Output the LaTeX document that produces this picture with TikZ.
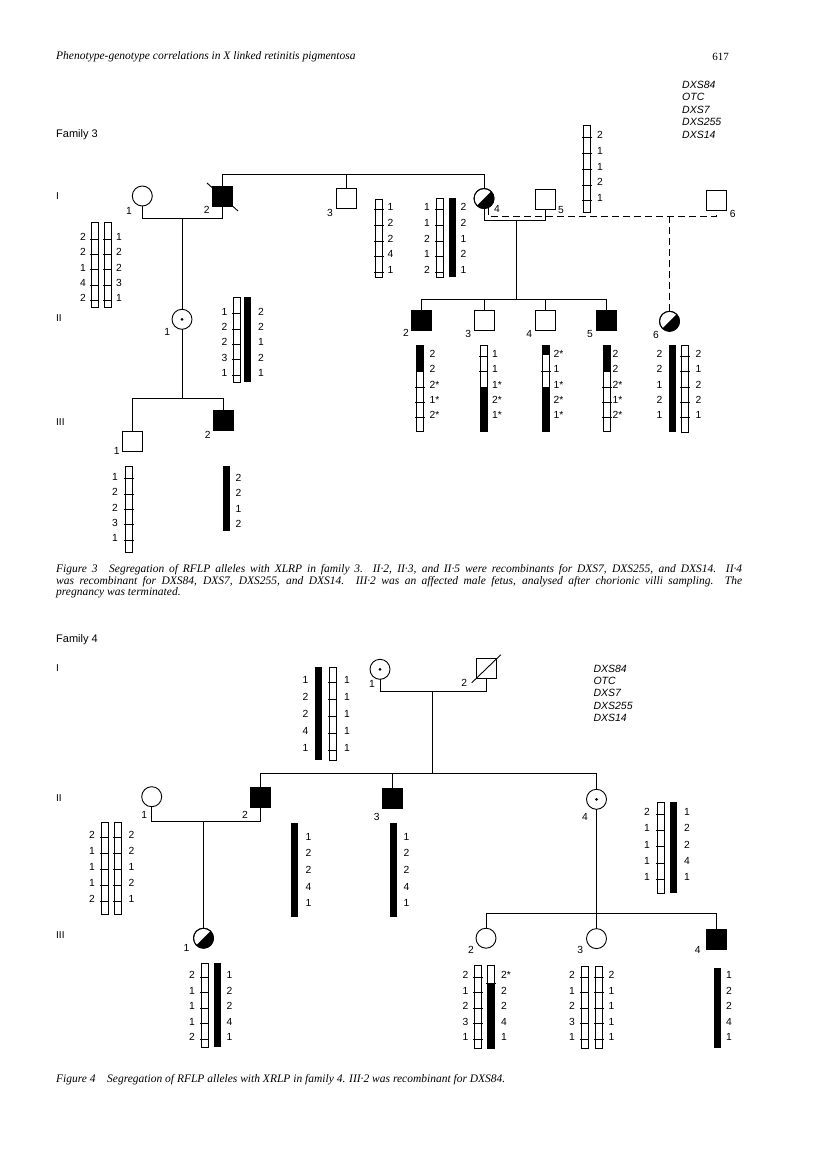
\documentclass[tikz,border=0pt]{standalone}
\usepackage{fontspec}
\setmainfont{Liberation Sans}
\newfontfamily\serifit{Liberation Serif}
\usetikzlibrary{calc}
\tikzset{
  pl/.style={line width=0.9pt},
  msq/.style={draw,line width=0.9pt,minimum size=20pt,inner sep=0pt,outer sep=0pt,fill=white},
  maff/.style={msq,fill=black},
  fcirc/.style={draw,circle,line width=0.9pt,minimum size=20pt,inner sep=0pt,outer sep=0pt,fill=white},
  num/.style={font=\fontsize{10.3}{10}\selectfont,inner sep=0pt},
  idl/.style={font=\fontsize{10.3}{10}\selectfont,inner sep=0pt},
  gen/.style={font=\fontsize{10}{10}\selectfont,inner sep=0pt,anchor=west},
  mk/.style={font=\fontsize{10.5}{12.4}\selectfont\itshape,inner sep=0pt,anchor=north west,align=left},
  captxt/.style={font=\fontsize{11.5}{12}\selectfont\serifit\itshape,inner sep=0pt,anchor=west},
  barl/.style={line width=0.7pt},
  dsh/.style={pl,dash pattern=on 7pt off 4pt},
}
\newcommand\wbar[5]{\draw[barl,fill=white] (#1,#2) rectangle (#1+7,#3);
  \foreach \k in {0,...,4}{\draw[barl] (#1-1.2,#4+\k*#5) -- (#1+8.2,#4+\k*#5);}}
\newcommand\bbar[3]{\fill (#1,#2) rectangle (#1+7,#3);}
\newcommand\pbar[5]{\draw[barl,fill=white] (#1,#2) rectangle (#1+7,#3);
  \foreach \ya/\yb in {#4}{\fill (#1,\ya) rectangle (#1+7,\yb);}
  \foreach \d in {#5}{\draw[barl] (#1-1.2,\d) -- (#1+8.2,\d);}
  \draw[barl] (#1,#2) rectangle (#1+7,#3);}
\newcommand\numsL[4]{\foreach \v [count=\i from 0] in {#4}{\node[num,anchor=east] at (#1,#2+\i*#3) {\v};}}
\newcommand\numsR[4]{\foreach \v [count=\i from 0] in {#4}{\node[num,anchor=west] at (#1,#2+\i*#3) {\v};}}
\newcommand\halfc[1]{\fill (#1.center) ++(-45:10) arc[start angle=-45,end angle=135,radius=10] -- cycle;
  \draw[pl] (#1.center) circle[radius=10];}
\newcommand\dotc[1]{\fill (#1.center) circle[radius=1.5];}
\begin{document}
\begin{tikzpicture}[x=1pt,y=-1pt]
\fill[white] (0,0) rectangle (816,1166);
\useasboundingbox (0,0) rectangle (816,1166);

% header
\node[captxt] (hdr) at (56,57) {Phenotype-genotype correlations in X linked retinitis pigmentosa};
\node[captxt,anchor=east,font=\fontsize{11}{12}\selectfont\serifit] (pg) at (729,57) {617};

% ================= FAMILY 3 =================
\node[mk] (leg3) at (682,81) {DXS84\\OTC\\DXS7\\DXS255\\DXS14};
\node[gen,font=\fontsize{11}{12}\selectfont] (fam3) at (56,135) {Family 3};
\node[gen] (g3a) at (56,196) {I};
\node[gen] (g3b) at (56,318) {II};
\node[gen] (g3c) at (56,422) {III};

% generation I
\node[fcirc] (a1) at (142.3,196) {};
\node[maff] (a2) at (222.5,196.5) {};
\node[msq] (a3) at (346.7,198) {};
\node[fcirc] (a4) at (484,198.5) {};
\node[msq] (a5) at (545,199) {};
\node[msq] (a6) at (716.7,200) {};
\halfc{a4}
\draw[pl] ([shift={(-5.5,-3.5)}]a2.north west) -- ([shift={(5.5,4.5)}]a2.south east);

% generation II
\node[fcirc] (b1) at (182,319.3) {};
\dotc{b1}
\node[maff] (b2) at (421.7,320.7) {};
\node[msq] (b3) at (484.3,320.7) {};
\node[msq] (b4) at (545.7,320.7) {};
\node[maff] (b5) at (606.7,320.7) {};
\node[fcirc] (b6) at (669.5,321.3) {};
\halfc{b6}

% generation III
\node[msq] (c1) at (132.7,441) {};
\node[maff] (c2) at (223.5,420.7) {};

% connectors family 3
\coordinate (t3) at (0,174.5);
\draw[pl] (a2.north) -- (a2.north |- t3) -- (a4.north |- t3) -- (a4.north);
\draw[pl] (a3.north) -- (a3.north |- t3);
\coordinate (m12) at (182,218.3);
\draw[pl] (a1.south) -- (a1.south |- m12) -- (a2.south |- m12) -- (a2.south);
\draw[pl] (m12) -- (b1.north);
\coordinate (m46) at (669.5,216);
\draw[dsh] (a4.-65) -- (a4.-65 |- m46) -- (a6.south |- m46) -- (a6.south);
\draw[dsh] (m46) -- (b6.north);
\coordinate (m45) at (516,220);
\draw[pl] (a4.south) -- (a4.south |- m45) -- (a5.south |- m45) -- (a5.south);
\coordinate (s2) at (516,299);
\draw[pl] (m45) -- (s2);
\draw[pl] (b2.north) -- (b2.north |- s2) -- (b5.north |- s2) -- (b5.north);
\draw[pl] (b3.north) -- (b3.north |- s2);
\draw[pl] (b4.north) -- (b4.north |- s2);
\coordinate (s3) at (182,398.3);
\draw[pl] (b1.south) -- (s3);
\draw[pl] (c1.north) -- (c1.north |- s3) -- (c2.north |- s3) -- (c2.north);

% id labels family 3
\node[idl] (la1) at (129,210.7) {1};
\node[idl] (la2) at (206.7,210) {2};
\node[idl] (la3) at (330,212.7) {3};
\node[idl] (la4) at (497,209.3) {4};
\node[idl] (la5) at (561,210) {5};
\node[idl] (la6) at (732.7,214) {6};
\node[idl] (lb1) at (167.3,331.7) {1};
\node[idl] (lb2) at (406,333.3) {2};
\node[idl] (lb3) at (468.3,334.3) {3};
\node[idl] (lb4) at (529.3,334.3) {4};
\node[idl] (lb5) at (590,334.3) {5};
\node[idl] (lb6) at (656,335) {6};
\node[idl] (lc1) at (116.7,451) {1};
\node[idl] (lc2) at (207.7,435.3) {2};

% haplotype bars family 3
\wbar{91}{222}{307}{239}{15.3}
\wbar{104}{222}{307}{239}{15.3}
\numsL{86}{237}{15.3}{2,2,1,4,2}
\numsR{116}{237}{15.3}{1,2,2,3,1}

\wbar{375.5}{199}{277}{209.5}{15.75}
\numsR{387.5}{207}{15.75}{1,2,2,4,1}

\wbar{436}{198}{277}{209.5}{15.75}
\numsL{430}{207}{15.75}{1,1,2,1,2}
\bbar{448.5}{198}{277}
\numsR{460.5}{207}{15.75}{2,2,1,2,1}

\wbar{583.5}{125}{212}{137.5}{15.8}
\numsR{597}{135}{15.8}{2,1,1,2,1}

\wbar{233}{297}{382}{313.5}{15.4}
\numsL{227.5}{311.5}{15.4}{1,2,2,3,1}
\bbar{244}{297}{382}
\numsR{258}{311.5}{15.4}{2,2,1,2,1}

\wbar{125.5}{466}{552}{478.5}{15.4}
\numsL{118}{476.7}{15.4}{1,2,2,3,1}
\bbar{222.5}{466}{531}
\numsR{235.5}{477.7}{15.4}{2,2,1,2}

\pbar{416.5}{345}{431.7}{345/371.7}{387,402.3,417.5}
\numsR{429.5}{354}{15.25}{2,2,2*,1*,2*}
\pbar{480}{345}{431.7}{386.7/431.7}{356.5,371.8}
\numsR{492}{354}{15.25}{1,1,1*,2*,1*}
\pbar{542.5}{345}{431.7}{345/355,387.3/431.7}{371.8}
\numsR{553.5}{354}{15.25}{2*,1,1*,2*,1*}
\pbar{603.5}{345}{431.7}{345/371.7}{387,402.3,417.5}
\numsR{612.5}{354}{15.25}{2,2,2*,1*,2*}
\bbar{669}{345}{432}
\numsL{662.5}{354}{15.25}{2,2,1,2,1}
\wbar{681.5}{345}{432}{356.5}{15.25}
\numsR{695.5}{354}{15.25}{2,1,2,2,1}

% caption 3
\node[captxt] (cap3a) at (56,570) {\makebox[686pt][s]{Figure 3\quad Segregation of RFLP alleles with XLRP in family 3. II·2, II·3, and II·5 were recombinants for DXS7, DXS255, and DXS14. II·4}};
\node[captxt] (cap3b) at (56,581.5) {\makebox[686pt][s]{was recombinant for DXS84, DXS7, DXS255, and DXS14. III·2 was an affected male fetus, analysed after chorionic villi sampling. The}};
\node[captxt] (cap3c) at (56,593) {pregnancy was terminated.};

% ================= FAMILY 4 =================
\node[mk] (leg4) at (593.3,664.5) {DXS84\\OTC\\DXS7\\DXS255\\DXS14};
\node[gen,font=\fontsize{11}{12}\selectfont] (fam4) at (56,640) {Family 4};
\node[gen] (g4a) at (56,668) {I};
\node[gen] (g4b) at (56,798) {II};
\node[gen] (g4c) at (56,935) {III};

\node[fcirc] (d1) at (380,669.3) {};
\dotc{d1}
\node[msq] (d2) at (486.7,668.8) {};
\draw[pl] ([shift={(-5,4)}]d2.south west) -- ([shift={(4,-4)}]d2.north east);

\node[fcirc] (e1) at (151.7,796.7) {};
\node[maff] (e2) at (260.5,797.8) {};
\node[maff] (e3) at (392.7,798.3) {};
\node[fcirc] (e4) at (596.5,799.3) {};
\dotc{e4}

\node[fcirc] (f1) at (203.5,938.2) {};
\halfc{f1}
\node[fcirc] (f2) at (486,938.2) {};
\node[fcirc] (f3) at (596.5,938.6) {};
\node[maff] (f4) at (716.5,939) {};

\coordinate (m4) at (432.7,691.7);
\draw[pl] (d1.south) -- (d1.south |- m4) -- (d2.south |- m4) -- (d2.south);
\coordinate (s4) at (432.7,773.3);
\draw[pl] (m4) -- (s4);
\draw[pl] (e2.north) -- (e2.north |- s4) -- (e4.north |- s4) -- (e4.north);
\draw[pl] (e3.north) -- (e3.north |- s4);
\coordinate (m5) at (203.5,821.7);
\draw[pl] (e1.south) -- (e1.south |- m5) -- (e2.south |- m5) -- (e2.south);
\draw[pl] (m5) -- (f1.north);
\coordinate (s5) at (596.5,913.8);
\draw[pl] (e4.south) -- (f3.north);
\draw[pl] (f2.north) -- (f2.north |- s5) -- (f4.north |- s5) -- (f4.north);

\node[idl] (ld1) at (372,684.3) {1};
\node[idl] (ld2) at (464.3,683.3) {2};
\node[idl] (le1) at (144.3,815) {1};
\node[idl] (le2) at (245,815) {2};
\node[idl] (le3) at (376.7,816.7) {3};
\node[idl] (le4) at (585,816.7) {4};
\node[idl] (lf1) at (186.4,948.4) {1};
\node[idl] (lf2) at (470.9,949.5) {2};
\node[idl] (lf3) at (580.3,949.5) {3};
\node[idl] (lf4) at (697.7,950.2) {4};

% bars family 4
\bbar{315}{667}{760}
\numsL{308.5}{680}{17}{1,2,2,4,1}
\wbar{329}{667}{760}{682}{17}
\numsR{344}{680}{17}{1,1,1,1,1}

\wbar{101}{822}{914}{837}{16}
\wbar{114}{822}{914}{837}{16}
\numsL{95}{835}{16}{2,1,1,1,2}
\numsR{128.5}{835}{16}{2,2,1,2,1}

\bbar{291}{823}{917}
\numsR{305.5}{836.7}{16.6}{1,2,2,4,1}
\bbar{389.5}{823}{917}
\numsR{403.5}{836.7}{16.6}{1,2,2,4,1}

\wbar{657}{802}{893}{814}{16.4}
\numsL{650}{811.7}{16.4}{2,1,1,1,1}
\bbar{670}{802}{893}
\numsR{684}{811.7}{16.4}{1,2,2,4,1}

\wbar{201}{963}{1047}{977}{15.5}
\numsL{195}{975}{15.5}{2,1,1,1,2}
\bbar{213.5}{963}{1047}
\numsR{226.5}{975}{15.5}{1,2,2,4,1}

\wbar{474.5}{965}{1048}{977}{15.5}
\numsL{468.5}{975}{15.5}{2,1,2,3,1}
\pbar{487.5}{965}{1048}{983/1048}{983}
\numsR{501}{975}{15.5}{2*,2,2,4,1}

\wbar{581}{966}{1048}{977}{15.5}
\wbar{595.5}{966}{1048}{977}{15.5}
\numsL{575}{975}{15.5}{2,1,2,3,1}
\numsR{608.5}{975}{15.5}{2,1,1,1,1}

\bbar{713.5}{968}{1048}
\numsR{726}{975}{15.5}{1,2,2,4,1}

\node[captxt] (cap4) at (56,1080) {Figure 4\quad Segregation of RFLP alleles with XRLP in family 4. III·2 was recombinant for DXS84.};
\end{tikzpicture}
\end{document}
